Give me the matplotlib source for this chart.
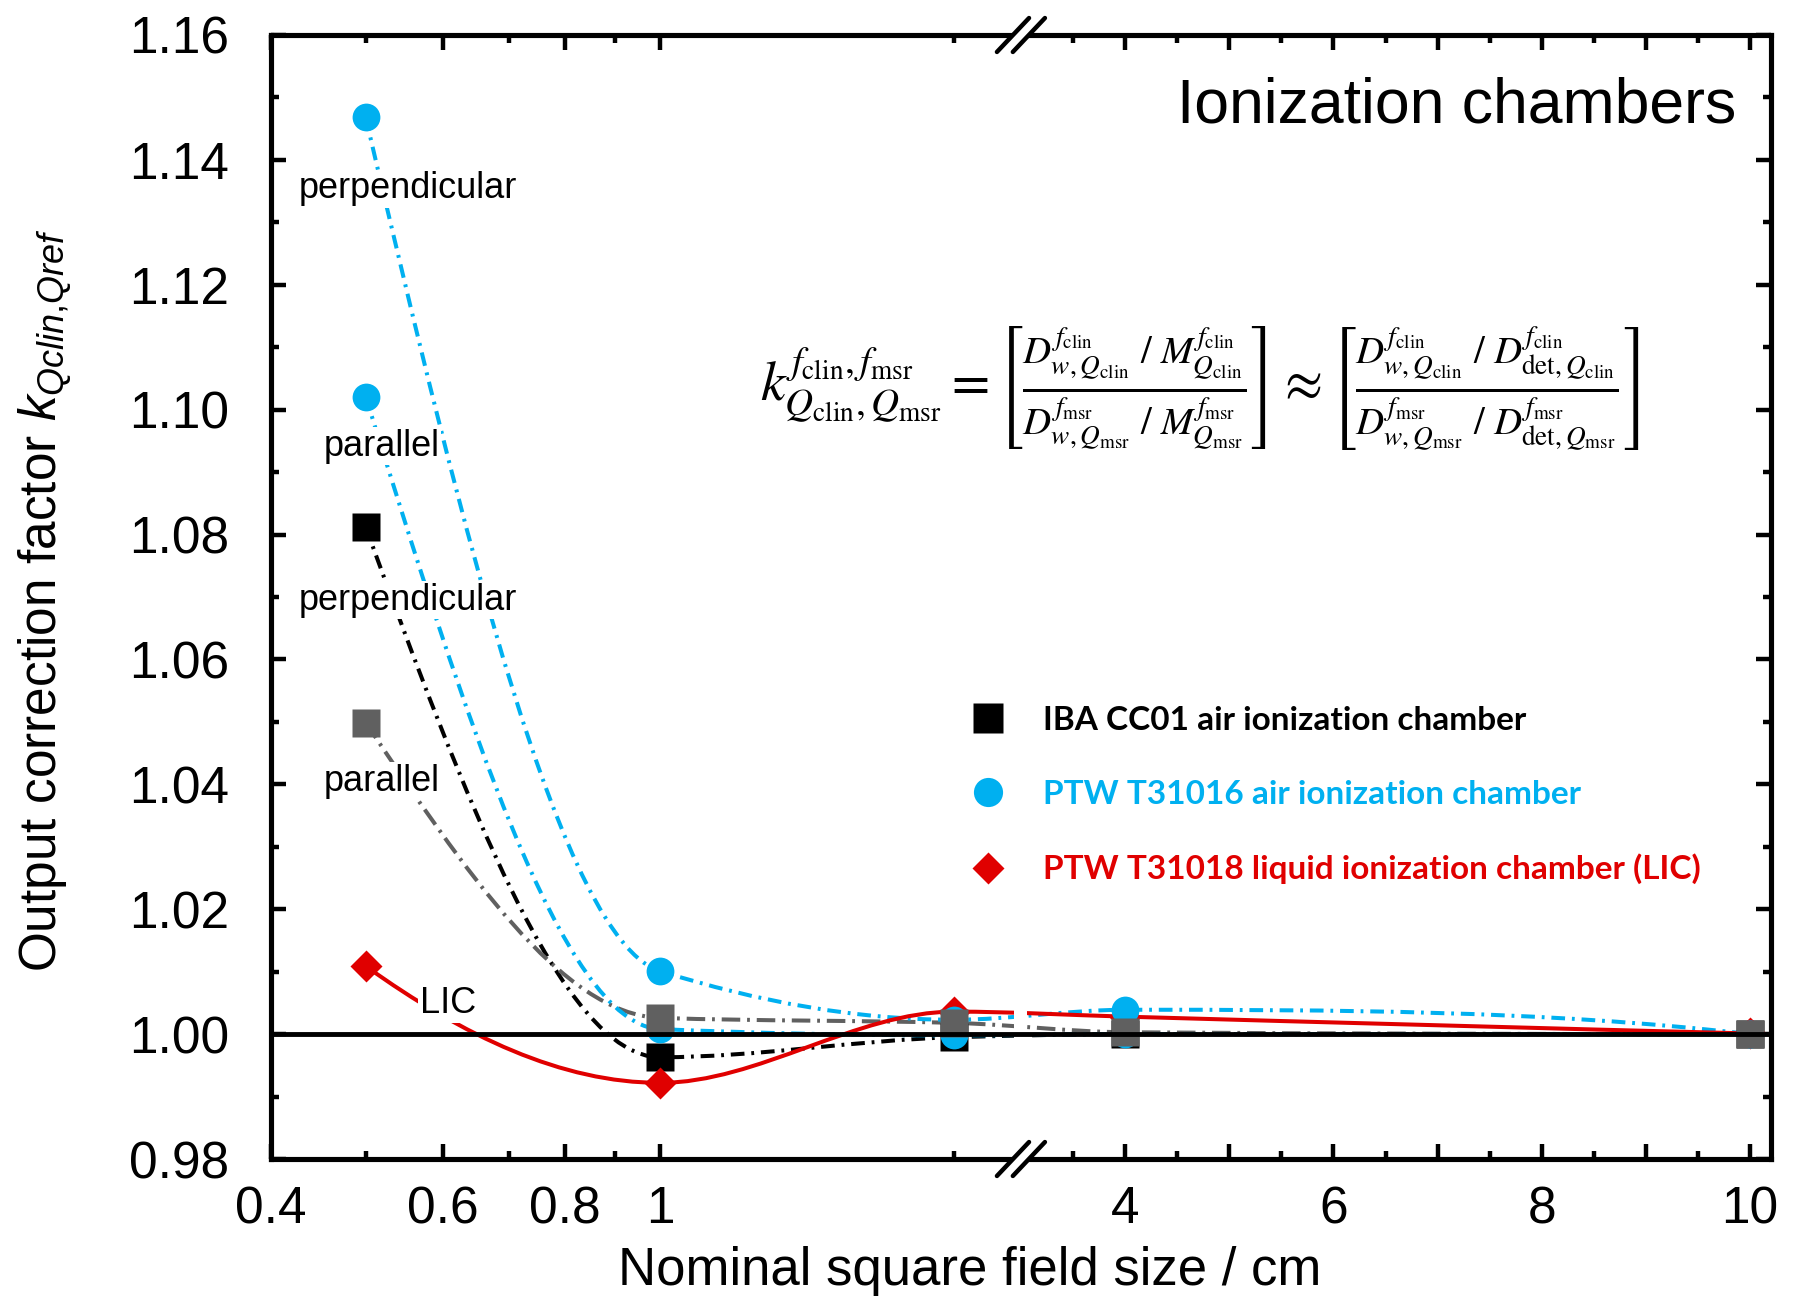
import numpy as np
import matplotlib
matplotlib.use("Agg")
import matplotlib.pyplot as plt
from matplotlib.path import Path
from matplotlib.patches import PathPatch, Polygon
from matplotlib.lines import Line2D

plt.rcParams["font.family"] = ["Liberation Sans", "DejaVu Sans"]
plt.rcParams["mathtext.fontset"] = "custom"
plt.rcParams["mathtext.rm"] = "Liberation Sans"
plt.rcParams["mathtext.it"] = "Liberation Sans:italic"
plt.rcParams["mathtext.bf"] = "Liberation Sans:bold"

# nominal square field size / cm
field_size = [0.5, 1, 2, 4, 10]

# output correction factors
cc01_perp = [1.0812, 0.9963, 0.9995, 1.0000, 1.0000]
cc01_par = [1.0499, 1.0026, 1.0018, 1.0003, 1.0000]
t31016_perp = [1.1468, 1.0101, 1.0023, 1.0039, 1.0000]
t31016_par = [1.1021, 1.0008, 0.9998, 1.0000, 1.0000]
t31018_lic = [1.0109, 0.9922, 1.0036, 1.0028, 1.0001]

legend_labels = ["IBA CC01 air ionization chamber",
                 "PTW T31016 air ionization chamber",
                 "PTW T31018 liquid ionization chamber (LIC)"]

x_ticks = [0.4, 0.6, 0.8, 1, 4, 5, 6, 7, 8, 9, 10]
x_ticklabels = ["0.4", "0.6", "0.8", "1", "4", "", "6", "", "8", "", "10"]
x_minor = [0.5, 0.7, 0.9, 2, 3.5, 4.5, 5.5, 6.5, 7.5, 8.5, 9.5]
y_ticks = [0.98, 1.00, 1.02, 1.04, 1.06, 1.08, 1.10, 1.12, 1.14, 1.16]

BLACK = "#000000"
GREY = "#606060"
BLUE = "#00b0f0"
RED = "#e00000"

# broken x axis: log part on the left half, linear part on the right half
X_LO, X_BL, X_BR, X_HI = 0.4, 2.34, 3.0, 10.2


def fwd(x):
    x = np.asarray(x, dtype=float)
    with np.errstate(divide="ignore", invalid="ignore"):
        left = 0.5 * np.log10(x / X_LO) / np.log10(X_BL / X_LO)
    right = 0.5 + 0.5 * (x - X_BR) / (X_HI - X_BR)
    return np.where(x <= X_BL, left, np.where(x >= X_BR, right, 0.5))


def inv(u):
    u = np.asarray(u, dtype=float)
    left = X_LO * 10 ** (2 * u * np.log10(X_BL / X_LO))
    right = X_BR + 2 * (u - 0.5) * (X_HI - X_BR)
    return np.where(u <= 0.5, left, right)


def end_slope(h0, h1, d0, d1):
    m = ((2 * h0 + h1) * d0 - h0 * d1) / (h0 + h1)
    if np.sign(m) != np.sign(d0):
        return 0.0
    if np.sign(d0) != np.sign(d1) and abs(m) > 3 * abs(d0):
        return 3 * d0
    return m


def spline_path(xs, ys):
    # monotone cubic (Bezier) through the points, in the scaled x space
    u = fwd(xs)
    y = np.asarray(ys, dtype=float)
    h = np.diff(u)
    d = np.diff(y) / h
    m = np.zeros_like(y)
    for k in range(1, len(y) - 1):
        if d[k - 1] * d[k] > 0:
            w1 = 2 * h[k] + h[k - 1]
            w2 = h[k] + 2 * h[k - 1]
            m[k] = (w1 + w2) / (w1 / d[k - 1] + w2 / d[k])
    m[0] = end_slope(h[0], h[1], d[0], d[1])
    m[-1] = end_slope(h[-1], h[-2], d[-1], d[-2])
    verts = [(xs[0], ys[0])]
    codes = [Path.MOVETO]
    for k in range(len(h)):
        c1 = (float(inv(u[k] + h[k] / 3)), y[k] + m[k] * h[k] / 3)
        c2 = (float(inv(u[k + 1] - h[k] / 3)), y[k + 1] - m[k + 1] * h[k] / 3)
        verts += [c1, c2, (xs[k + 1], ys[k + 1])]
        codes += [Path.CURVE4] * 3
    return Path(verts, codes)


fig = plt.figure(figsize=(17.93, 12.96), dpi=100)
ax = fig.add_axes([0.1511, 0.1057, 0.8366, 0.8673])
ax.set_xscale("function", functions=(fwd, inv))
ax.set_xlim(X_LO, X_HI)
ax.set_ylim(0.98, 1.16)

dashdot = (0, (3.4, 1.7, 0.7, 1.7))
longdashdot = (0, (4.6, 1.7, 0.7, 1.7))
for ys, col, ls in [(cc01_perp, BLACK, dashdot),
                    (cc01_par, GREY, longdashdot),
                    (t31016_perp, BLUE, dashdot),
                    (t31016_par, BLUE, dashdot),
                    (t31018_lic, RED, "-")]:
    ax.add_patch(PathPatch(spline_path(field_size, ys), fill=False,
                           ec=col, lw=2.9, ls=ls, zorder=2))

# gap in the data lines at the axis break
ax.axvspan(float(inv(0.4957)), float(inv(0.5043)), ymin=0.01, ymax=0.99,
           fc="white", ec="none", zorder=3)

ax.plot(field_size, cc01_perp, ls="none", marker="s", ms=20, color=BLACK, mec="none", zorder=4)
ax.plot(field_size, t31018_lic, ls="none", marker="D", ms=16.5, color=RED, mec="none", zorder=5)
ax.plot(field_size, t31016_par, ls="none", marker="o", ms=20, color=BLUE, mec="none", zorder=6)
ax.plot(field_size, t31016_perp, ls="none", marker="o", ms=20, color=BLUE, mec="none", zorder=6)
ax.plot(field_size, cc01_par, ls="none", marker="s", ms=20, color=GREY, mec="none", zorder=7)

ax.axhline(1.0, color=BLACK, lw=3.5, zorder=8)

# axis styling
for sp in ax.spines.values():
    sp.set_linewidth(3.7)
ax.set_xticks(x_ticks, labels=x_ticklabels)
ax.set_xticks(x_minor, minor=True)
ax.set_yticks(y_ticks, labels=[f"{v:.2f}" for v in y_ticks])
ax.set_yticks(np.arange(0.99, 1.16, 0.02), minor=True)
ax.tick_params(which="both", direction="in", top=True, right=True, width=3.2, labelsize=37)
ax.tick_params(which="major", length=11)
ax.tick_params(which="minor", length=6)
ax.tick_params(axis="x", pad=19)
ax.tick_params(axis="y", pad=30)

# break marks on top and bottom spines
g, sx, sy = 0.0053, 0.0107, 0.0151
for yb in (0.0, 1.0):
    ax.add_patch(Polygon([(0.5 - g - sx, yb - sy), (0.5 + g - sx, yb - sy),
                          (0.5 + g + sx, yb + sy), (0.5 - g + sx, yb + sy)],
                         closed=True, transform=ax.transAxes, fc="white", ec="none",
                         clip_on=False, zorder=9))
    for dx in (-g, g):
        ax.plot([0.5 + dx - sx, 0.5 + dx + sx], [yb - sy, yb + sy], transform=ax.transAxes,
                color=BLACK, lw=3.2, clip_on=False, zorder=10, solid_capstyle="round")

ax.set_xlabel("Nominal square field size / cm", fontsize=38)
ax.xaxis.set_label_coords(0.466, -0.0774)
ax.set_ylabel(r"Output correction factor $k_{Qclin{,}Qref}$", fontsize=37)
ax.yaxis.set_label_coords(-0.131, 0.497)

# orientation labels next to the small-field points
lab = dict(fontsize=26, ha="center", va="center", transform=ax.transAxes, zorder=3.5,
           bbox=dict(fc="white", ec="none", pad=1))
ax.text(0.091, 0.863, "perpendicular", **lab)
ax.text(0.074, 0.634, "parallel", **lab)
ax.text(0.091, 0.497, "perpendicular", **lab)
ax.text(0.074, 0.336, "parallel", **lab)
ax.text(0.118, 0.138, "LIC", **lab)

ax.text(0.977, 0.937, "Ionization chambers", fontsize=45, ha="right", va="center",
        transform=ax.transAxes)

formula = (r"$k^{f_{\mathrm{clin}},f_{\mathrm{msr}}}_{Q_{\mathrm{clin}},Q_{\mathrm{msr}}}"
           r" = \left[\frac{D^{f_{\mathrm{clin}}}_{w,Q_{\mathrm{clin}}}\ /\ M^{f_{\mathrm{clin}}}_{Q_{\mathrm{clin}}}}"
           r"{D^{f_{\mathrm{msr}}}_{w,Q_{\mathrm{msr}}}\ /\ M^{f_{\mathrm{msr}}}_{Q_{\mathrm{msr}}}}\right]"
           r" \approx \left[\frac{D^{f_{\mathrm{clin}}}_{w,Q_{\mathrm{clin}}}\ /\ D^{f_{\mathrm{clin}}}_{\mathrm{det},Q_{\mathrm{clin}}}}"
           r"{D^{f_{\mathrm{msr}}}_{w,Q_{\mathrm{msr}}}\ /\ D^{f_{\mathrm{msr}}}_{\mathrm{det},Q_{\mathrm{msr}}}}\right]$")
ax.text(0.619, 0.685, formula, fontsize=40, ha="center", va="center",
        math_fontfamily="stix", transform=ax.transAxes)

handles = [Line2D([], [], ls="none", marker="s", ms=21, color=BLACK, mec="none"),
           Line2D([], [], ls="none", marker="o", ms=21, color=BLUE, mec="none"),
           Line2D([], [], ls="none", marker="D", ms=16.5, color=RED, mec="none")]
leg = ax.legend(handles, legend_labels, loc="center left", bbox_to_anchor=(0.4669, 0.3238),
                frameon=False, prop={"family": "Lato", "weight": "bold", "size": 24},
                handlelength=1.0, handletextpad=1.15, labelspacing=1.35,
                borderpad=0, borderaxespad=0)
for t, c in zip(leg.get_texts(), [BLACK, BLUE, RED]):
    t.set_color(c)

fig.savefig("out.png", dpi=100)
